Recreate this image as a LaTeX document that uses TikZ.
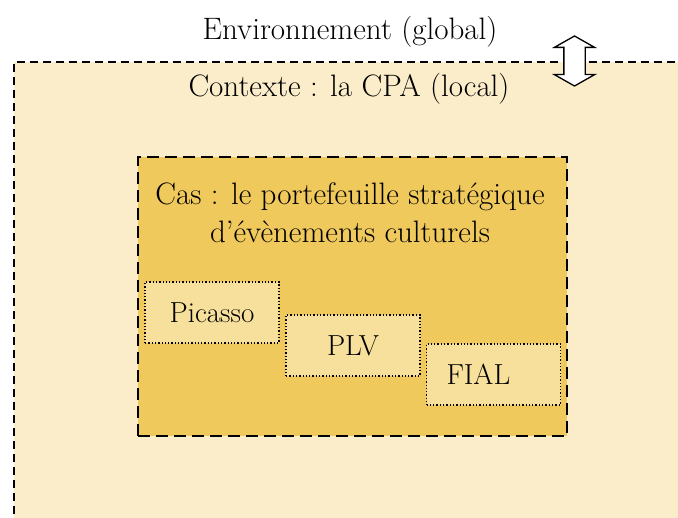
\documentclass[tikz,border=0pt]{standalone}
\usepackage{fontspec}
\usetikzlibrary{shapes.arrows}
\definecolor{ctxfill}{HTML}{FBECCA}
\definecolor{casfill}{HTML}{F0C95C}
\definecolor{evtfill}{HTML}{F7DF9C}
\begin{document}
\begin{tikzpicture}[x=1pt, y=-1pt,
  txt/.style={font=\fontsize{31}{38}\selectfont, inner sep=0pt},
  evt/.style={rectangle, draw, dotted, line width=1.3pt, fill=evtfill, minimum width=134pt, minimum height=61pt, font=\fontsize{29}{38}\selectfont}]
\useasboundingbox (0,0) rectangle (678,518);
\clip (0,0) rectangle (678,518);
\fill[ctxfill] (14,62) rectangle (700,540);
\draw[dash pattern=on 8pt off 5pt, line width=1.3pt] (14,540) -- (14,62) -- (700,62);
\node[txt, anchor=base] (env) at (350,40) {Environnement (global)};
\node[txt, anchor=base] (ctx) at (349,97) {Contexte : la CPA (local)};
\node[rectangle, draw, fill=casfill, dash pattern=on 12pt off 6pt, line width=1.5pt, minimum width=429pt, minimum height=279pt] (cas) at (352.5,296.5) {};
\node[txt, anchor=base] (cas1) at (350,205) {Cas : le portefeuille stratégique};
\node[txt, anchor=base] (cas2) at (350,243) {d’évènements culturels};
\node[evt] (picasso) at (212,312.5) {Picasso};
\node[evt] (plv) at (353,345.5) {PLV};
\node[evt, text width=110pt, align=left] (fial) at (493.5,374.5) {\hspace{8pt}FIAL};
\node[double arrow, draw, fill=white, line width=1.3pt, rotate=90, minimum height=50pt, minimum width=39pt, double arrow head extend=9.5pt, double arrow tip angle=121, inner xsep=0pt, inner ysep=10pt] (lien) at (574.5,61) {};
\end{tikzpicture}
\end{document}
